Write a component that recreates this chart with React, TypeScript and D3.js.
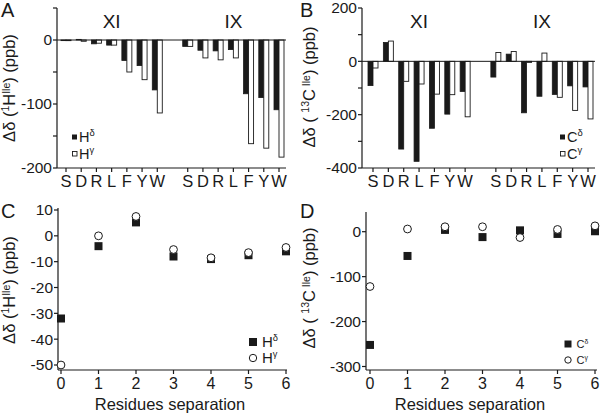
import React from "react";
import * as d3 from "d3";

const FONT = "'Liberation Sans', Arial, Helvetica, sans-serif";
const INK = "#1a1a1a";

// ---------- Data ----------
const residues = ["S", "D", "R", "L", "F", "Y", "W"];
const groups = ["XI", "IX"];
// Panel A (1H, ppb)
const hDeltaXI = [-1, 1, -6, -8, -32, -40, -78];
const hGammaXI = [-1, -2, -5, -8, -50, -62, -114];
const hDeltaIX = [-10, -16, -17, -15, -84, -90, -109];
const hGammaIX = [-10, -28, -31, -28, -162, -169, -183];
// Panel B (13C, ppb)
const cDeltaXI = [-91, 71, -329, -375, -251, -198, -113];
const cGammaXI = [-25, 76, -75, -85, -123, -125, -208];
const cDeltaIX = [-59, 27, -193, -131, -124, -92, -96];
const cGammaIX = [33, 37, -4, 31, -135, -184, -216];
// Panels C, D
const separation = [0, 1, 2, 3, 4, 5, 6];
const hDeltaSep = [-32, -4, 5.2, -8, -9, -7.5, -6];
const hGammaSep = [-50, 0, 7.5, -5.3, -8.5, -6.5, -4.5];
const cDeltaSep = [-252, -54, 4, -12, 3, -5, 1];
const cGammaSep = [-122, 6, 11, 11, -13, 5, 13];

const slotKeys = [
  ...residues.map((r) => "XI-" + r),
  "gap",
  ...residues.map((r) => "IX-" + r),
];

type BarProps = {
  letter: string;
  letterX: number;
  left: number;
  right: number;
  c0: number;
  c1: number;
  yDomain: [number, number];
  yRange: [number, number];
  ticks: number[];
  labelEvery: number;
  deltaXI: number[];
  gammaXI: number[];
  deltaIX: number[];
  gammaIX: number[];
  yLabel: React.ReactNode;
  yLabelX: number;
  yLabelY: number;
  legend: { x: number; y: number; sym: string; fs: number };
};

function BarPanel(p: BarProps) {
  const x = d3.scalePoint<string>().domain(slotKeys).range([p.c0, p.c1]);
  const y = d3.scaleLinear().domain(p.yDomain).range(p.yRange);
  const bw = 5;
  const bars: React.ReactNode[] = [];
  const addGroup = (g: string, dv: number[], gv: number[]) => {
    residues.forEach((r, i) => {
      const cx = x(g + "-" + r)!;
      const d = dv[i];
      const gm = gv[i];
      bars.push(
        <rect key={g + r + "d"} x={cx - bw} width={bw} y={Math.min(y(0), y(d))}
          height={Math.abs(y(d) - y(0))} fill={INK} stroke={INK} strokeWidth={0.8} />
      );
      bars.push(
        <rect key={g + r + "g"} x={cx} width={bw} y={Math.min(y(0), y(gm))}
          height={Math.abs(y(gm) - y(0))} fill="#fff" stroke={INK} strokeWidth={0.9} />
      );
    });
  };
  addGroup("XI", p.deltaXI, p.gammaXI);
  addGroup("IX", p.deltaIX, p.gammaIX);
  const bottom = p.yRange[0];
  const top = y(p.yDomain[1]);
  const gCenter = (g: string) => (x(g + "-S")! + x(g + "-W")!) / 2;
  const L = p.legend;
  return (
    <g fontFamily={FONT} fill={INK}>
      {bars}
      <line x1={p.left} x2={p.right} y1={y(0)} y2={y(0)} stroke={INK} strokeWidth={1} />
      <line x1={p.left} x2={p.left} y1={top} y2={bottom} stroke={INK} strokeWidth={1.2} />
      <line x1={p.left} x2={p.right} y1={bottom} y2={bottom} stroke={INK} strokeWidth={1.2} />
      {p.ticks.map((t) => (
        <g key={t}>
          <line x1={p.left - 4} x2={p.left} y1={y(t)} y2={y(t)} stroke={INK} strokeWidth={1.2} />
          {t % p.labelEvery === 0 && (
            <text x={p.left - 5} y={y(t)} dy="0.35em" textAnchor="end" fontSize={15.5}>
              {t}
            </text>
          )}
        </g>
      ))}
      {slotKeys.filter((k) => k !== "gap").map((k) => (
        <g key={k}>
          <line x1={x(k)!} x2={x(k)!} y1={bottom} y2={bottom + 4} stroke={INK} strokeWidth={1.2} />
          <text x={x(k)!} y={bottom + 19} textAnchor="middle" fontSize={16.5}>
            {k.split("-")[1]}
          </text>
        </g>
      ))}
      {groups.map((g) => (
        <text key={g} x={gCenter(g)} y={28} textAnchor="middle" fontSize={19}>
          {g}
        </text>
      ))}
      <text transform={`translate(${p.yLabelX},${p.yLabelY}) rotate(-90)`} textAnchor="middle" fontSize={16.5}>
        {p.yLabel}
      </text>
      <text x={p.letterX} y={17} fontSize={20}>{p.letter}</text>
      {/* legend */}
      <rect x={L.x} y={L.y - 2.5} width={5} height={5} fill={INK} />
      <text x={L.x + 7} y={L.y + 5} fontSize={L.fs}>
        {L.sym}
        <tspan fontSize={L.fs * 0.65} dy={-6}>δ</tspan>
      </text>
      <rect x={L.x + 0.5} y={L.y + 14.5} width={4.5} height={4.5} fill="#fff" stroke={INK} strokeWidth={0.9} />
      <text x={L.x + 7} y={L.y + 22} fontSize={L.fs}>
        {L.sym}
        <tspan fontSize={L.fs * 0.65} dy={-6}>γ</tspan>
      </text>
    </g>
  );
}

type ScatterProps = {
  letter: string;
  letterX: number;
  left: number;
  right: number;
  xRange: [number, number];
  yDomain: [number, number];
  yRange: [number, number];
  axisTop: number;
  axisBottom: number;
  ticks: number[];
  delta: number[];
  gamma: number[];
  yLabel: React.ReactNode;
  yLabelX: number;
  yLabelY: number;
  titleX: number;
  legend: { x: number; y: number; sym: string; fs: number; sq: number };
};

function ScatterPanel(p: ScatterProps) {
  const x = d3.scaleLinear().domain([0, 6]).range(p.xRange);
  const y = d3.scaleLinear().domain(p.yDomain).range(p.yRange);
  const sq = 8;
  const L = p.legend;
  return (
    <g fontFamily={FONT} fill={INK}>
      <line x1={p.left} x2={p.left} y1={p.axisTop} y2={p.axisBottom} stroke={INK} strokeWidth={1.2} />
      <line x1={p.left} x2={p.right} y1={p.axisBottom} y2={p.axisBottom} stroke={INK} strokeWidth={1.2} />
      {p.ticks.map((t) => (
        <g key={t}>
          <line x1={p.left - 4} x2={p.left} y1={y(t)} y2={y(t)} stroke={INK} strokeWidth={1.2} />
          <text x={p.left - 5} y={y(t)} dy="0.35em" textAnchor="end" fontSize={15.5}>{t}</text>
        </g>
      ))}
      {separation.map((s) => (
        <g key={s}>
          <line x1={x(s)} x2={x(s)} y1={p.axisBottom} y2={p.axisBottom + 4} stroke={INK} strokeWidth={1.2} />
          <text x={x(s)} y={p.axisBottom + 19} textAnchor="middle" fontSize={16}>{s}</text>
        </g>
      ))}
      <text x={p.titleX} y={410} textAnchor="middle" fontSize={16.5}>Residues separation</text>
      {separation.map((s, i) => (
        <rect key={"d" + s} x={x(s) - sq / 2} y={y(p.delta[i]) - sq / 2} width={sq} height={sq} fill={INK} />
      ))}
      {separation.map((s, i) => (
        <circle key={"g" + s} cx={x(s)} cy={y(p.gamma[i])} r={3.9} fill="#fff" stroke={INK} strokeWidth={1} />
      ))}
      <text transform={`translate(${p.yLabelX},${p.yLabelY}) rotate(-90)`} textAnchor="middle" fontSize={16.5}>
        {p.yLabel}
      </text>
      <text x={p.letterX} y={218} fontSize={20}>{p.letter}</text>
      <rect x={L.x - L.sq / 2} y={L.y - L.sq / 2} width={L.sq} height={L.sq} fill={INK} />
      <text x={L.x + L.sq / 2 + 5} y={L.y + L.fs * 0.36} fontSize={L.fs}>
        {L.sym}
        <tspan fontSize={L.fs * 0.62} dy={-L.fs * 0.4}>δ</tspan>
      </text>
      <circle cx={L.x} cy={L.y + 16} r={L.sq / 2 - 0.3} fill="#fff" stroke={INK} strokeWidth={1} />
      <text x={L.x + L.sq / 2 + 5} y={L.y + 16 + L.fs * 0.36} fontSize={L.fs}>
        {L.sym}
        <tspan fontSize={L.fs * 0.62} dy={-L.fs * 0.4}>γ</tspan>
      </text>
    </g>
  );
}

const hLabel = (
  <>
    {"Δδ ("}
    <tspan fontSize={10.5} dy={-6}>1</tspan>
    <tspan dy={6}>H</tspan>
    <tspan fontSize={10.5} dy={-5}>Ile</tspan>
    <tspan dy={5}>{") (ppb)"}</tspan>
  </>
);
const cLabel = (
  <>
    {"Δδ ( "}
    <tspan fontSize={10.5} dy={-6}>13</tspan>
    <tspan dy={6}>C</tspan>
    <tspan fontSize={10.5} dy={-5}>{" Ile"}</tspan>
    <tspan dy={5}>{") (ppb)"}</tspan>
  </>
);

export default function App() {
  return (
    <svg width={600} height={413} style={{ position: "absolute", left: 0, top: 0, background: "#fff" }}>
      <rect x={0} y={0} width={600} height={413} fill="#fff" />
      <BarPanel letter="A" letterX={1} left={57} right={286} c0={66} c1={279}
        yDomain={[-200, 50]} yRange={[168, 8]} ticks={d3.range(-200, 51, 50)} labelEvery={100}
        deltaXI={hDeltaXI} gammaXI={hGammaXI} deltaIX={hDeltaIX} gammaIX={hGammaIX}
        yLabel={hLabel} yLabelX={15} yLabelY={88}
        legend={{ x: 72, y: 137, sym: "H", fs: 14.5 }} />
      <BarPanel letter="B" letterX={300} left={362} right={595} c0={373} c1={588}
        yDomain={[-400, 200]} yRange={[168, 8]} ticks={d3.range(-400, 201, 100)} labelEvery={200}
        deltaXI={cDeltaXI} gammaXI={cGammaXI} deltaIX={cDeltaIX} gammaIX={cGammaIX}
        yLabel={cLabel} yLabelX={315} yLabelY={87}
        legend={{ x: 560, y: 137, sym: "C", fs: 14.5 }} />
      <ScatterPanel letter="C" letterX={1} left={58} right={287} xRange={[61, 286]}
        yDomain={[-50, 10]} yRange={[365, 210]} axisTop={208} axisBottom={370}
        ticks={d3.range(-50, 11, 10)} delta={hDeltaSep} gamma={hGammaSep}
        yLabel={hLabel} yLabelX={15} yLabelY={290} titleX={170}
        legend={{ x: 253, y: 342, sym: "H", fs: 15, sq: 8 }} />
      <ScatterPanel letter="D" letterX={300} left={366} right={597} xRange={[370, 595]}
        yDomain={[-300, 0]} yRange={[366.5, 231.7]} axisTop={212} axisBottom={370}
        ticks={[-300, -200, -100, 0]} delta={cDeltaSep} gamma={cGammaSep}
        yLabel={cLabel} yLabelX={315} yLabelY={288} titleX={470}
        legend={{ x: 568, y: 344, sym: "C", fs: 11, sq: 7 }} />
    </svg>
  );
}
